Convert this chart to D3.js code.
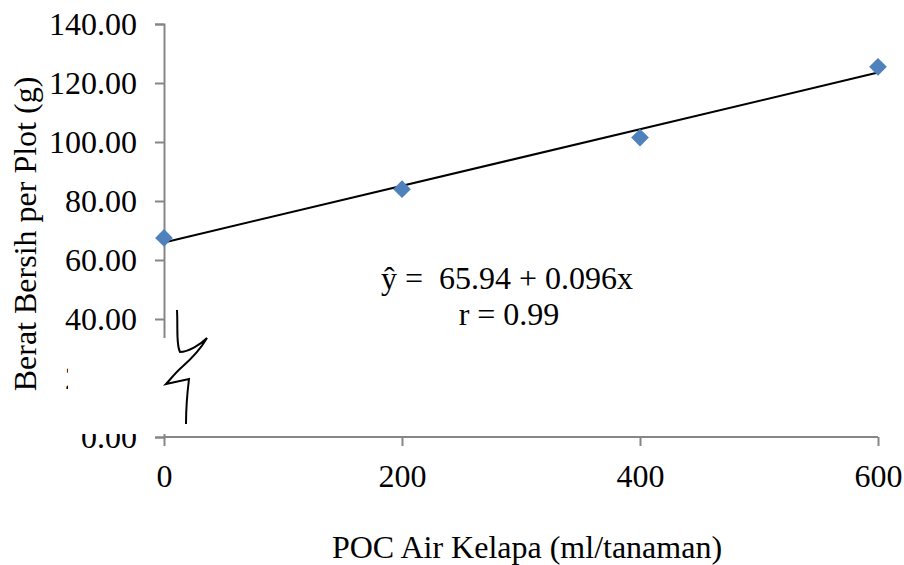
<!DOCTYPE html>
<html>
<head>
<meta charset="utf-8">
<script src="https://cdn.jsdelivr.net/npm/d3@7"></script>
<style>
  body { margin: 0; background: #fff; }
  text { font-family: "Liberation Serif", "Times New Roman", serif; fill: #000; }
</style>
</head>
<body>
<div id="chart"></div>
<script>
var doses = [0, 200, 400, 600];
var weights = [67.5, 84, 101.5, 125.5];
var yTicks = [0, 20, 40, 60, 80, 100, 120, 140];
var xTicks = [0, 200, 400, 600];
var intercept = 65.94,
    slope = 0.096;

var width = 904,
    height = 565,
    margin = {top: 24, right: 26, bottom: 128, left: 164};

var svg = d3.select('#chart')
    .append('svg')
    .attr('width', width)
    .attr('height', height);

var x = d3.scaleLinear()
    .domain([0, 600])
    .range([margin.left, width - margin.right]);
var y = d3.scaleLinear()
    .domain([0, 140])
    .range([height - margin.bottom, margin.top]);

// axes
var yAxis = svg.append('g')
    .attr('transform', 'translate(' + margin.left + ',0)')
    .call(d3.axisLeft(y).tickValues(yTicks).tickSize(9).tickPadding(18)
        .tickFormat(d3.format('.2f')));
var xAxis = svg.append('g')
    .attr('transform', 'translate(0,' + y(0) + ')')
    .call(d3.axisBottom(x).tickValues(xTicks).tickSize(9).tickPadding(18));

[yAxis, xAxis].forEach(function (ax) {
    ax.select('.domain').attr('stroke', '#868686').attr('stroke-width', 2);
    ax.selectAll('.tick line').attr('stroke', '#868686').attr('stroke-width', 2);
    ax.selectAll('.tick text')
        .style('font-family', '"Liberation Serif", serif')
        .style('font-size', '32px')
        .attr('fill', '#000');
});
xAxis.selectAll('.domain').attr('d', 'M' + x(0) + ',0H' + x(600));

// trend line
svg.append('line')
    .attr('x1', x(0))
    .attr('y1', y(intercept + slope * 0))
    .attr('x2', x(600))
    .attr('y2', y(intercept + slope * 600))
    .attr('stroke', '#000')
    .attr('stroke-width', 2);

// points
svg.selectAll('.pt')
    .data(doses)
    .enter().append('path')
    .attr('class', 'pt')
    .attr('d', d3.symbol().type(d3.symbolDiamond2).size(200))
    .attr('transform', function (d, i) { return 'translate(' + x(d) + ',' + y(weights[i]) + ')'; })
    .attr('fill', '#4F81BD');

// axis break cover
svg.append('rect')
    .attr('x', 68)
    .attr('y', 338)
    .attr('width', 112)
    .attr('height', 96)
    .attr('fill', '#fff');

svg.append('path')
    .attr('d', 'M177,310C178,330 176,345 180,352C188,352 200,345 207,338C200,350 190,360 182,367C175,373 170,380 166,384L189,379C187,395 186,410 186,424')
    .attr('fill', 'none')
    .attr('stroke', '#000')
    .attr('stroke-width', 2);

// equation
svg.append('text')
    .attr('x', 507)
    .attr('y', 289)
    .attr('text-anchor', 'middle')
    .style('font-size', '32px')
    .style('white-space', 'pre')
    .text('ŷ =  65.94 + 0.096x');
svg.append('text')
    .attr('x', 509)
    .attr('y', 325)
    .attr('text-anchor', 'middle')
    .style('font-size', '32px')
    .text('r = 0.99');

// axis titles
svg.append('text')
    .attr('transform', 'translate(36,234) rotate(-90)')
    .attr('text-anchor', 'middle')
    .style('font-size', '32px')
    .text('Berat Bersih per Plot (g)');
svg.append('text')
    .attr('x', 527)
    .attr('y', 558)
    .attr('text-anchor', 'middle')
    .style('font-size', '32px')
    .text('POC Air Kelapa (ml/tanaman)');
</script>
</body>
</html>
